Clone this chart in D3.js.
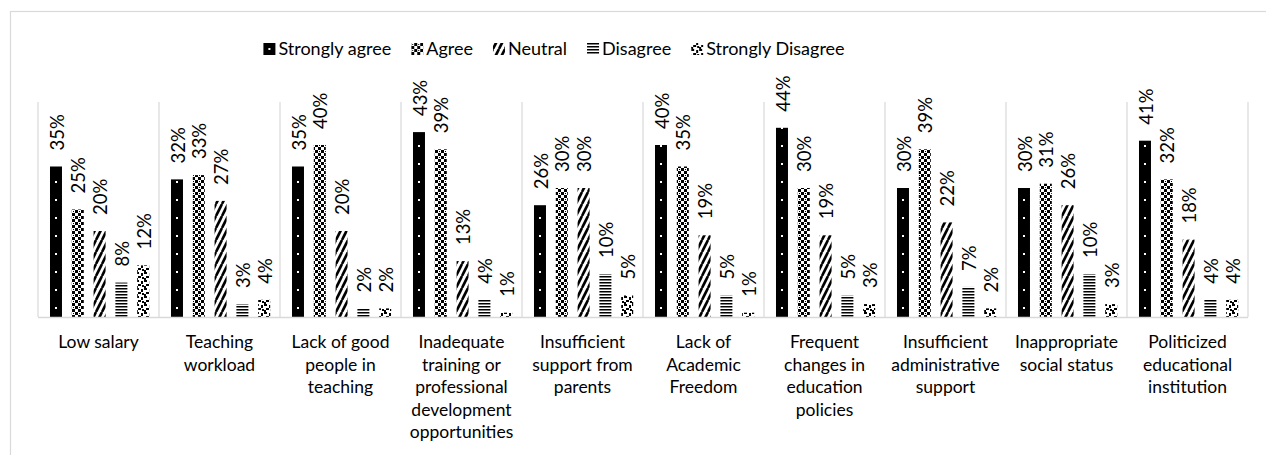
<!DOCTYPE html>
<html><head><meta charset="utf-8">
<script src="https://cdn.jsdelivr.net/npm/d3@7"></script>
<style>
body{margin:0;background:#fff}
svg{display:block}
text{font-family:Lato, sans-serif; fill:#000}
</style>
</head><body>
<svg id="chart" width="1266" height="455"></svg>
<script>
// ---------------- data ----------------
const categories = [
  "Low salary",
  "Teaching workload",
  "Lack of good people in teaching",
  "Inadequate training or professional development opportunities",
  "Insufficient support from parents",
  "Lack of Academic Freedom",
  "Frequent changes in education policies",
  "Insufficient administrative support",
  "Inappropriate social status",
  "Politicized educational institution"
];
const seriesNames = ["Strongly agree", "Agree", "Neutral", "Disagree", "Strongly Disagree"];
const stronglyAgree    = [35, 32, 35, 43, 26, 40, 44, 30, 30, 41];
const agree            = [25, 33, 40, 39, 30, 35, 30, 39, 31, 32];
const neutral          = [20, 27, 20, 13, 30, 19, 19, 22, 26, 18];
const disagree         = [ 8,  3,  2,  4, 10,  5,  5,  7, 10,  4];
const stronglyDisagree = [12,  4,  2,  1,  5,  1,  3,  2,  3,  4];
const yMax = 50;

const seriesValues = [stronglyAgree, agree, neutral, disagree, stronglyDisagree];

// ---------------- layout ----------------
const W = 1266, H = 455;
const plot = {left: 38, right: 1248, top: 102, bottom: 317};

const svg = d3.select("#chart");

// chart area border
svg.append("rect")
  .attr("x", 10.5).attr("y", 11.5)
  .attr("width", W).attr("height", H)
  .attr("fill", "none").attr("stroke", "#d9d9d9").attr("stroke-width", 1.2);

const x0 = d3.scaleBand().domain(categories).range([plot.left, plot.right]).padding(0);
const x1 = d3.scaleBand().domain(seriesNames).range([0, x0.bandwidth()])
  .paddingInner(0.45).paddingOuter(0.5).align(0.55);
const y = d3.scaleLinear().domain([0, yMax]).range([plot.bottom, plot.top]);

// ---------------- patterns ----------------
const defs = svg.append("defs");

// Strongly agree: solid black with small white dots centred in each bar
const p0 = defs.append("pattern").attr("id", "pat0")
  .attr("patternUnits", "userSpaceOnUse")
  .attr("x", plot.left).attr("y", plot.bottom)
  .attr("width", x0.step()).attr("height", 18);
p0.append("rect").attr("width", x0.step()).attr("height", 18).attr("fill", "#000");
p0.append("rect").attr("x", x1(seriesNames[0]) + x1.bandwidth() / 2 - 1).attr("y", 8)
  .attr("width", 2).attr("height", 2).attr("fill", "#fff");

// Agree: checker of black and white with ring-like holes
const p1 = defs.append("pattern").attr("id", "pat1")
  .attr("patternUnits", "userSpaceOnUse").attr("width", 6).attr("height", 6);
p1.append("rect").attr("width", 6).attr("height", 6).attr("fill", "#000");
p1.append("rect").attr("x", 0).attr("y", 0).attr("width", 3).attr("height", 3).attr("fill", "#fff");
p1.append("rect").attr("x", 3).attr("y", 3).attr("width", 3).attr("height", 3).attr("fill", "#fff");
p1.append("rect").attr("x", 1).attr("y", 1).attr("width", 1).attr("height", 1).attr("fill", "#000");

// Neutral: wide upward diagonal
const p2 = defs.append("pattern").attr("id", "pat2")
  .attr("patternUnits", "userSpaceOnUse").attr("width", 6).attr("height", 12);
p2.append("rect").attr("width", 6).attr("height", 12).attr("fill", "#fff");
[-6, 0, 6].forEach(o => {
  p2.append("line").attr("x1", o).attr("y1", 12).attr("x2", o + 6).attr("y2", 0)
    .attr("stroke", "#000").attr("stroke-width", 2.6);
});

// Disagree: narrow horizontal lines
const p3 = defs.append("pattern").attr("id", "pat3")
  .attr("patternUnits", "userSpaceOnUse").attr("width", 4).attr("height", 3);
p3.append("rect").attr("width", 4).attr("height", 3).attr("fill", "#fff");
p3.append("rect").attr("width", 4).attr("height", 1.5).attr("fill", "#000");

// Strongly disagree: large confetti
const p4 = defs.append("pattern").attr("id", "pat4")
  .attr("patternUnits", "userSpaceOnUse").attr("width", 8).attr("height", 8);
p4.append("rect").attr("width", 8).attr("height", 8).attr("fill", "#fff");
[[0,0,3,2],[5,1,2,3],[2,4,3,2],[6,5,2,2],[0,6,2,2]].forEach(r => {
  p4.append("rect").attr("x", r[0]).attr("y", r[1]).attr("width", r[2]).attr("height", r[3]).attr("fill", "#000");
});

const fills = ["url(#pat0)", "url(#pat1)", "url(#pat2)", "url(#pat3)", "url(#pat4)"];

// ---------------- separators / axis ----------------
const gridColor = "#d9d9d9";
const boundaries = categories.map(c => x0(c)).concat([plot.right]);
svg.append("g").selectAll("line").data(boundaries).join("line")
  .attr("x1", d => d).attr("x2", d => d)
  .attr("y1", plot.top).attr("y2", plot.bottom)
  .attr("stroke", gridColor).attr("stroke-width", 1.2);

// ---------------- bars ----------------
const rows = [];
categories.forEach((c, i) => {
  seriesNames.forEach((s, j) => rows.push({cat: c, ser: s, si: j, v: seriesValues[j][i]}));
});

svg.append("g").selectAll("rect").data(rows).join("rect")
  .attr("x", d => x0(d.cat) + x1(d.ser))
  .attr("y", d => y(d.v))
  .attr("width", x1.bandwidth())
  .attr("height", d => y(0) - y(d.v))
  .attr("fill", d => fills[d.si]);

// value labels
svg.append("g").selectAll("text").data(rows).join("text")
  .attr("transform", d => `translate(${x0(d.cat) + x1(d.ser) + x1.bandwidth() / 2 + 1},${y(d.v) - 16}) rotate(-90)`)
  .attr("dy", "0.36em")
  .attr("text-anchor", "start")
  .style("font-size", "18.5px")
  .text(d => d.v + "%");

// x axis baseline
svg.append("line")
  .attr("x1", plot.left).attr("x2", plot.right)
  .attr("y1", plot.bottom + 0.5).attr("y2", plot.bottom + 0.5)
  .attr("stroke", gridColor).attr("stroke-width", 1.5);

// category labels (wrapped within the category width)
const maxLine = x0.step() * 0.93;
const lineH = 22.5;
const labG = svg.append("g");
categories.forEach(c => {
  const t = labG.append("text")
    .attr("x", x0(c) + x0.bandwidth() / 2)
    .attr("y", 348)
    .attr("text-anchor", "middle")
    .style("font-size", "17.5px");
  const words = c.split(" ");
  const lines = [];
  let cur = [];
  const probe = t.append("tspan");
  words.forEach(w => {
    const trial = cur.concat([w]).join(" ");
    probe.text(trial);
    if (cur.length && probe.node().getComputedTextLength() > maxLine) {
      lines.push(cur.join(" "));
      cur = [w];
    } else {
      cur.push(w);
    }
  });
  if (cur.length) lines.push(cur.join(" "));
  probe.remove();
  lines.forEach((ln, k) => {
    t.append("tspan").attr("x", x0(c) + x0.bandwidth() / 2)
      .attr("y", 348 + k * lineH).text(ln);
  });
});

// ---------------- legend ----------------
const legendCenter = 554, legendY = 49, mk = 12, mkGap = 3, itemGap = 20;
const lg = svg.append("g");
const items = seriesNames.map((s, i) => {
  const g = lg.append("g");
  if (i === 0) {
    g.append("rect").attr("width", mk).attr("height", mk).attr("y", -mk / 2).attr("fill", "#000");
    g.append("rect").attr("x", mk / 2 - 1).attr("y", -1).attr("width", 2).attr("height", 2).attr("fill", "#fff");
  } else {
    g.append("rect").attr("width", mk).attr("height", mk).attr("y", -mk / 2).attr("fill", fills[i]);
  }
  const t = g.append("text").attr("x", mk + mkGap).attr("dy", "0.36em")
    .style("font-size", "18px").text(s);
  return {g, w: mk + mkGap + t.node().getComputedTextLength()};
});
const total = d3.sum(items, d => d.w) + itemGap * (items.length - 1);
let cx = legendCenter - total / 2;
items.forEach(it => {
  it.g.attr("transform", `translate(${cx},${legendY})`);
  cx += it.w + itemGap;
});
</script>
</body></html>
